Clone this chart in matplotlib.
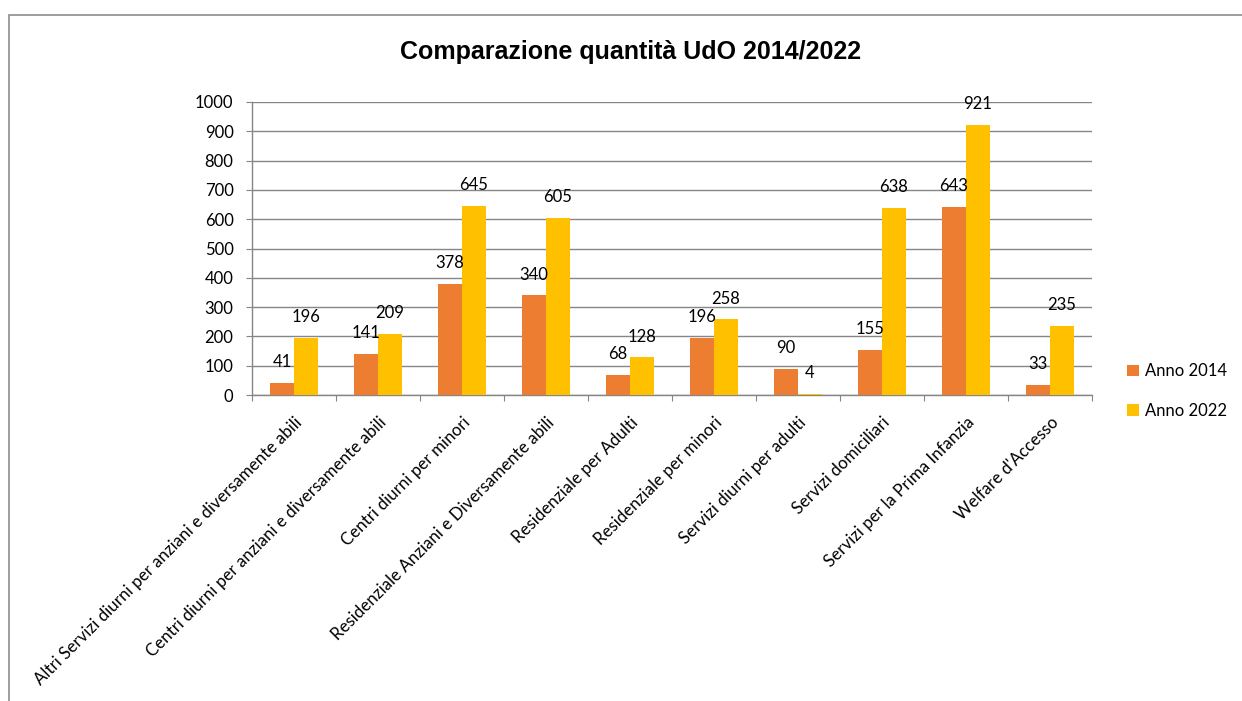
import numpy as np
import matplotlib
matplotlib.use('Agg')
import matplotlib.pyplot as plt
from matplotlib.patches import Rectangle

# dati
categorie = [
    'Altri Servizi diurni per anziani e diversamente abili',
    'Centri diurni per anziani e diversamente abili',
    'Centri diurni per minori',
    'Residenziale Anziani e Diversamente abili',
    'Residenziale per Adulti',
    'Residenziale per minori',
    'Servizi diurni per adulti',
    'Servizi domiciliari',
    'Servizi per la Prima Infanzia',
    "Welfare d'Accesso",
]
anno_2014 = [41, 141, 378, 340, 68, 196, 90, 155, 643, 33]
anno_2022 = [196, 209, 645, 605, 128, 258, 4, 638, 921, 235]
serie = ['Anno 2014', 'Anno 2022']
titolo = 'Comparazione quantità UdO 2014/2022'

COL_2014 = '#ED7D31'
COL_2022 = '#FFC000'
GRIGIO = '#868686'
FONT = ['Lato', 'DejaVu Sans']

plt.rcParams['font.family'] = FONT

W, H = 1242, 701
fig = plt.figure(figsize=(W / 100, H / 100), dpi=100)

# bordo dell'area grafico (esce dall'immagine a destra e in basso)
fig.patches.append(Rectangle((9 / W, -0.1), 1.2, 1.1 - 15 / H,
                             transform=fig.transFigure, fill=False,
                             edgecolor='#8c8c8c', linewidth=1.2))

ax = fig.add_axes([252 / W, 1 - 395 / H, 840 / W, 293 / H])

x = np.arange(len(categorie))
w = 24 / 84
b1 = ax.bar(x - w / 2, anno_2014, w, color=COL_2014, label=serie[0], zorder=3)
b2 = ax.bar(x + w / 2, anno_2022, w, color=COL_2022, label=serie[1], zorder=3)

for bars, vals in ((b1, anno_2014), (b2, anno_2022)):
    for r, v in zip(bars, vals):
        ax.annotate(str(v), (r.get_x() + r.get_width() / 2, r.get_height()),
                    xytext=(0, 15), textcoords='offset points',
                    ha='center', va='center', fontsize=12, color='#000000')

ax.set_xlim(-0.5, len(categorie) - 0.5)
ax.set_ylim(0, 1000)
ax.set_yticks(np.arange(0, 1001, 100))
ax.yaxis.grid(True, color=GRIGIO, linewidth=1, zorder=0)
ax.tick_params(axis='y', length=4.3, color=GRIGIO, labelsize=12, pad=9)

ax.set_xticks(np.arange(len(categorie) + 1) - 0.5)
ax.set_xticklabels([])
ax.tick_params(axis='x', which='major', length=4.3, color=GRIGIO)
ax.set_xticks(x, minor=True)
ax.set_xticklabels(categorie, minor=True, rotation=45, ha='right',
                   rotation_mode='anchor', fontsize=12.2)
ax.tick_params(axis='x', which='minor', length=0, pad=14)

for s in ('top', 'right'):
    ax.spines[s].set_visible(False)
for s in ('left', 'bottom'):
    ax.spines[s].set_color(GRIGIO)
    ax.spines[s].set_linewidth(1)

fig.text(631 / W, 1 - 52 / H, titolo, ha='center', va='center',
         fontsize=18, fontweight='bold',
         family=['Liberation Sans', 'DejaVu Sans'])

fig.legend(handles=[b1, b2], labels=serie, loc='center left',
           bbox_to_anchor=(1112 / W, 1 - 391 / H), frameon=False,
           fontsize=12, handlelength=0.7, handleheight=0.7,
           handletextpad=0.4, labelspacing=1.4)

fig.savefig('out.png', dpi=100)
